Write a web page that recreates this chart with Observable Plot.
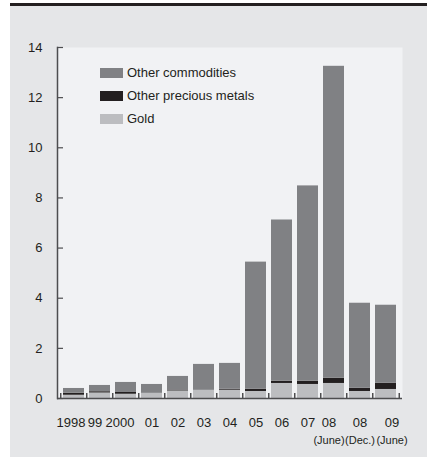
<!DOCTYPE html>
<html><head><meta charset="utf-8">
<script src="https://cdn.jsdelivr.net/npm/d3@7"></script>
<script src="https://cdn.jsdelivr.net/npm/@observablehq/plot@0.6"></script>
<style>
body{margin:0;background:#fff;font-family:"Liberation Sans",Arial,sans-serif;}
#wrap{position:absolute;left:10px;top:3px;width:417px;height:451px;border-top:3px solid #231f20;background:#e5e6e8;}
#chart{position:absolute;left:0;top:0;}
#legend{position:absolute;left:90px;top:55px;font-size:13px;color:#231f20;}
.row{display:flex;align-items:center;height:23px;}
.sw{width:23px;height:10px;margin-right:4px;}
</style>
</head><body>
<div id="wrap"><div id="chart"></div><div id="legend"></div></div>
<script>
const keys = ["1998","99","2000","01","02","03","04","05","06","07","08 (June)","08 (Dec.)","09 (June)"];
const tickLabels = ["1998","99","2000","01","02","03","04","05","06","07","08","08","09"];
const subLabels = ["","","","","","","","","","","(June)","(Dec.)","(June)"];
const gold = [0.13,0.22,0.17,0.20,0.30,0.32,0.33,0.28,0.60,0.56,0.60,0.28,0.36];
const otherPrecious = [0.08,0.05,0.07,0.01,0.04,0.01,0.04,0.09,0.09,0.13,0.21,0.13,0.25];
const otherCommodities = [0.19,0.25,0.40,0.35,0.54,1.03,1.03,5.07,6.43,7.79,12.44,3.39,3.11];
const seriesNames = ["Gold","Other precious metals","Other commodities"];
const seriesColors = ["#bcbdc0","#231f20","#808184"];
const yTicks = [0,2,4,6,8,10,12,14];

const seriesValues = [gold, otherPrecious, otherCommodities];
const rows = [];
seriesNames.forEach((s, si) => keys.forEach((k, i) => rows.push({key: k, series: s, value: seriesValues[si][i]})));

const W = 417, H = 451, mL = 47, mR = 25, mT = 41, mB = 59;
const step = (W - mL - mR) / keys.length;
const axisColor = "#4d4d4f";
const font = '"Liberation Sans", Arial, sans-serif';

// small horizontal nudges for crowded labels (style only)
const nudge = (i) => i === 0 ? -3 : i === 1 ? -5 : i === 2 ? -6 : i === 10 ? -5 : i === 12 ? 6 : 0;
const labelMarks = [];
const groups = d3.group(keys.map((k, i) => i), nudge);
for (const [dx, idx] of groups) {
  const ks = idx.map(i => keys[i]);
  labelMarks.push(Plot.text(ks, {x: d => d, text: d => tickLabels[keys.indexOf(d)], frameAnchor: "bottom", dy: 28, dx, fontSize: 13, fill: "#231f20"}));
  labelMarks.push(Plot.text(ks, {x: d => d, text: d => subLabels[keys.indexOf(d)], frameAnchor: "bottom", dy: 45, dx, fontSize: 11, fill: "#231f20"}));
}

const plot = Plot.plot({
  width: W, height: H,
  marginLeft: mL, marginRight: mR, marginTop: mT, marginBottom: mB,
  style: {background: "transparent", fontFamily: font, fontSize: "13px", color: "#231f20"},
  x: {domain: keys, paddingInner: 0.2, paddingOuter: 0.1, label: null, axis: null},
  y: {domain: [0, 14], label: null},
  color: {domain: seriesNames, range: seriesColors},
  marks: [
    Plot.frame({fill: "#f1f2f4", stroke: "none"}),
    Plot.barY(rows, {x: "key", y: "value", fill: "series", order: seriesNames}),
    Plot.axisY({ticks: yTicks, tickSize: 0, tickPadding: 15, fontSize: 13}),
    Plot.axisY({ticks: yTicks, tickSize: -6, text: null, stroke: axisColor, strokeWidth: 1.2}),
    Plot.axisX({tickSize: -5, text: null, dx: -step / 2, stroke: axisColor, strokeWidth: 1.5}),
    Plot.axisX({ticks: [keys[keys.length - 1]], tickSize: -5, text: null, dx: step / 2, stroke: axisColor, strokeWidth: 1.5}),
    ...labelMarks,
    Plot.ruleY([0], {stroke: axisColor, strokeWidth: 1.5}),
    Plot.frame({anchor: "left", stroke: axisColor, strokeWidth: 1.5})
  ]
});
document.getElementById("chart").appendChild(plot);

const legendOrder = ["Other commodities","Other precious metals","Gold"];
const leg = document.getElementById("legend");
legendOrder.forEach(name => {
  const r = document.createElement("div"); r.className = "row";
  const sw = document.createElement("div"); sw.className = "sw";
  sw.style.background = seriesColors[seriesNames.indexOf(name)];
  const t = document.createElement("span"); t.textContent = name;
  r.appendChild(sw); r.appendChild(t); leg.appendChild(r);
});
</script>
</body></html>
